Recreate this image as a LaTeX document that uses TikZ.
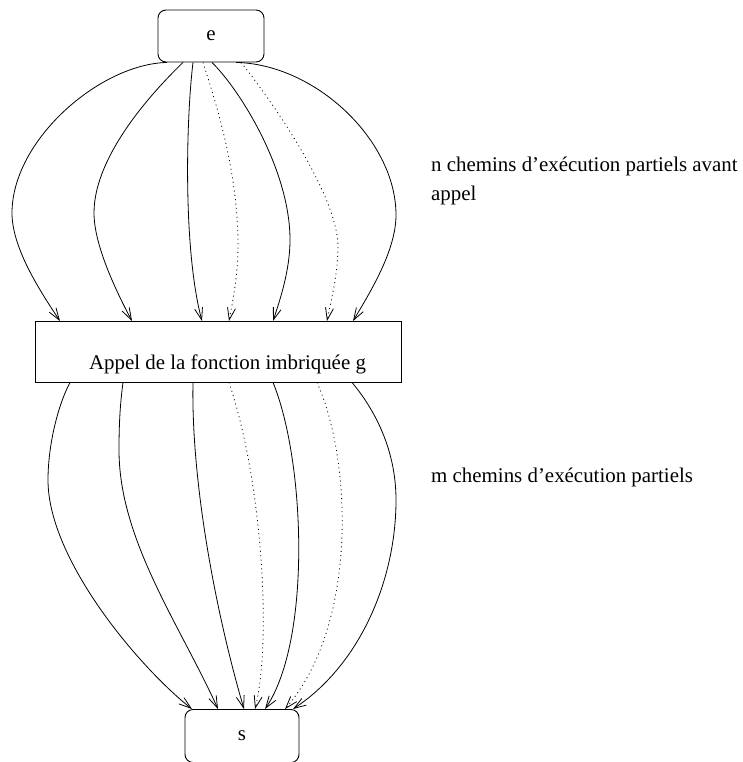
\documentclass[tikz,border=0pt]{standalone}
\usepackage{fontspec}
\setmainfont{Liberation Serif}
\usetikzlibrary{arrows.meta}

\tikzset{
  terminal/.style={draw, line width=0.9pt, rounded corners=8pt, inner sep=0pt},
  callbox/.style={draw, line width=0.9pt, inner sep=0pt,
    minimum width=366pt, minimum height=60.5pt},
  note/.style={inner sep=0pt, align=left},
  flow/.style={line width=0.8pt, -{Straight Barb[length=12pt,width=8pt]}},
  partial/.style={flow, dash pattern=on 1pt off 3.4pt}
}

\begin{document}
\begin{tikzpicture}[x=1pt, y=-1pt, font=\fontsize{20.9}{29.3}\selectfont]
  \useasboundingbox (0,0) rectangle (742,762);

  % entry, call and exit
  \node[terminal, minimum width=106pt, minimum height=52pt] (e) at (211,36) {e};
  \node[callbox] (g) at (218,351.75) {};
  \node[anchor=base] (gtext) at (227.5,369) {Appel de la fonction imbriquée g};
  \node[terminal, minimum width=114pt, minimum height=53pt] (s) at (242,736) {s};

  % side comments
  \node[note, anchor=north west] (before) at (431,156.7)
    {n chemins d’exécution partiels avant\\appel};
  \node[note, anchor=base west] (after) at (431,482)
    {m chemins d’exécution partiels};

  % paths from the entry to the call
  \draw[flow] ([xshift=-44pt]e.south) .. controls (100,64) and (12,140) .. (12,213)
      .. controls (12,248) and (40,291) .. ([xshift=-158pt]g.north);
  \draw[flow] ([xshift=-28pt]e.south) .. controls (165,80) and (94,150) .. (94,213)
      .. controls (94,245) and (116,291) .. ([xshift=-86pt]g.north);
  \draw[flow] ([xshift=-18pt]e.south) .. controls (186,120) and (183,250)
      .. ([xshift=-16pt]g.north);
  \draw[partial] ([xshift=-8pt]e.south) .. controls (215,100) and (238,170) .. (238,245)
      .. controls (238,275) and (233,300) .. ([xshift=11pt]g.north);
  \draw[flow] ([xshift=1pt]e.south) .. controls (240,90) and (290,170) .. (290,240)
      .. controls (290,270) and (280,300) .. ([xshift=55pt]g.north);
  \draw[partial] ([xshift=30pt]e.south) .. controls (265,92) and (336,190) .. (338,245)
      .. controls (338,275) and (331,300) .. ([xshift=109pt]g.north);
  \draw[flow] ([xshift=25pt]e.south) .. controls (315,64) and (396,140) .. (396,215)
      .. controls (396,250) and (371,291) .. ([xshift=135pt]g.north);

  % paths from the call to the exit
  \draw[flow] ([xshift=-148pt]g.south) .. controls (58,405) and (48,445) .. (48,480)
      .. controls (48,560) and (140,668) .. ([xshift=-50pt]s.north);
  \draw[flow] ([xshift=-95pt]g.south) .. controls (120,405) and (119,425) .. (119,450)
      .. controls (119,540) and (180,625) .. ([xshift=-24pt]s.north);
  \draw[flow] ([xshift=-25pt]g.south) .. controls (191,480) and (215,610)
      .. ([xshift=2pt]s.north);
  \draw[partial] ([xshift=11pt]g.south) .. controls (262,480) and (272,640)
      .. ([xshift=13pt]s.north);
  \draw[flow] ([xshift=55pt]g.south) .. controls (305,460) and (312,640)
      .. ([xshift=23pt]s.north);
  \draw[partial] ([xshift=99pt]g.south) .. controls (352,460) and (358,625)
      .. ([xshift=43pt]s.north);
  \draw[flow] ([xshift=134pt]g.south) .. controls (375,410) and (396,450) .. (396,500)
      .. controls (396,580) and (360,665) .. ([xshift=51pt]s.north);
\end{tikzpicture}
\end{document}
